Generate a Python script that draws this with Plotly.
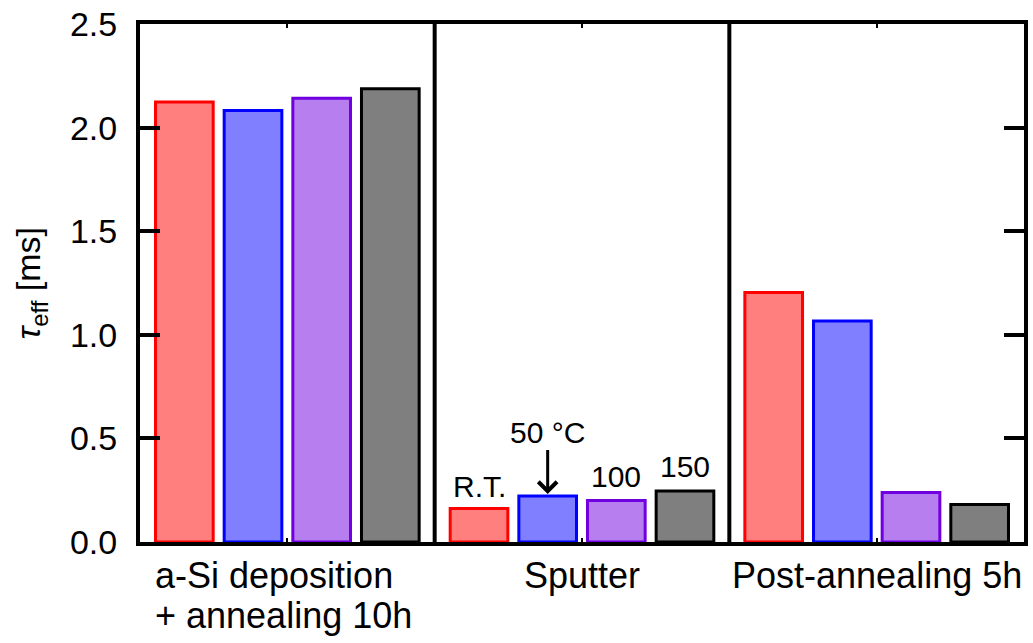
import plotly.graph_objects as go

# Process stages (x categories) and the deposition temperatures (series)
stages = ["a-Si deposition + annealing 10h", "Sputter", "Post-annealing 5h"]
temps = ["R.T.", "50 °C", "100", "150"]

# Effective lifetime tau_eff [ms] per temperature across the three stages
tau_rt = [2.124, 0.162, 1.204]
tau_50 = [2.082, 0.222, 1.067]
tau_100 = [2.142, 0.200, 0.239]
tau_150 = [2.188, 0.246, 0.181]

fill_colors = ["#FF7F7F", "#7F7FFF", "#B77EF0", "#7F7F7F"]
line_colors = ["#FF0000", "#0000FF", "#7000E0", "#000000"]

FONT = "Liberation Sans, Arial, sans-serif"
BARGAP = 0.068
GROUPGAP = 0.16

fig = go.Figure()
for name, vals, fc, lc in zip(temps, [tau_rt, tau_50, tau_100, tau_150], fill_colors, line_colors):
    fig.add_trace(go.Bar(
        x=list(range(len(stages))), y=vals, name=name,
        marker=dict(color=fc, line=dict(color=lc, width=3)),
        showlegend=False,
    ))

# centre of bar k inside a group, in category units
slot = (1 - BARGAP) / len(temps)
def bar_x(group, k):
    return group + (k - (len(temps) - 1) / 2) * slot

ann_font = dict(size=30, family=FONT, color="black")
annotations = []
# temperature labels above the Sputter group
sputter = 1
annotations.append(dict(x=bar_x(sputter, 0), y=tau_rt[sputter], xref="x", yref="y",
                        text="R.T.", showarrow=False, yanchor="bottom", yshift=3,
                        font=ann_font))
annotations.append(dict(x=bar_x(sputter, 1), y=tau_50[sputter], xref="x", yref="y",
                        text="50 °C", showarrow=True, arrowhead=4, arrowsize=1.2,
                        arrowwidth=3, arrowcolor="black", ax=0, ay=-64, standoff=2,
                        font=ann_font))
annotations.append(dict(x=bar_x(sputter, 2), y=tau_100[sputter], xref="x", yref="y",
                        text="100", showarrow=False, yanchor="bottom", yshift=6,
                        font=ann_font))
annotations.append(dict(x=bar_x(sputter, 3), y=tau_150[sputter], xref="x", yref="y",
                        text="150", showarrow=False, yanchor="bottom", yshift=6,
                        font=ann_font))

# stage labels below the axis
lab_font = dict(size=36, family=FONT, color="black")
left_edge = bar_x(0, 0) - slot * (1 - GROUPGAP) / 2
annotations.append(dict(x=left_edge, y=-0.0643, xref="x", yref="paper",
                        text="a-Si deposition", showarrow=False, xanchor="left", yanchor="middle",
                        xshift=-3, font=lab_font))
annotations.append(dict(x=left_edge, y=-0.1416, xref="x", yref="paper",
                        text="+ annealing 10h", showarrow=False, xanchor="left", yanchor="middle",
                        xshift=-3, font=lab_font))
annotations.append(dict(x=1, y=-0.0643, xref="x", yref="paper", text="Sputter",
                        showarrow=False, xanchor="center", yanchor="middle", font=lab_font))
annotations.append(dict(x=2, y=-0.0643, xref="x", yref="paper", text="Post-annealing 5h",
                        showarrow=False, xanchor="center", yanchor="middle", font=lab_font))

# y-axis title
annotations.append(dict(x=-0.124, y=0.5, xref="paper", yref="paper",
                        text="<i>τ</i><sub>eff</sub> [ms]", textangle=-90, showarrow=False,
                        xanchor="center", yanchor="middle",
                        font=dict(size=34, family=FONT, color="black")))

# separators between the stages
shapes = [dict(type="line", xref="x", yref="paper", x0=b, x1=b, y0=0, y1=1,
               line=dict(color="black", width=4)) for b in (0.5, 1.5)]

fig.update_layout(
    width=1033, height=643,
    margin=dict(l=140, r=5, t=24, b=101),
    paper_bgcolor="white", plot_bgcolor="white",
    barmode="group", bargap=BARGAP, bargroupgap=GROUPGAP,
    annotations=annotations, shapes=shapes,
    font=dict(family=FONT, color="black"),
)
fig.update_xaxes(
    range=[-0.5, 2.5], tickvals=[0, 1, 2], showticklabels=False,
    showline=True, linecolor="black", linewidth=4, mirror="ticks",
    ticks="inside", ticklen=4, tickwidth=2, tickcolor="black",
    showgrid=False, zeroline=False,
)
fig.update_yaxes(
    range=[0, 2.5], dtick=0.5, tickformat=".1f",
    showline=True, linecolor="black", linewidth=4, mirror="ticks",
    ticks="inside", ticklen=20, tickwidth=4, tickcolor="black",
    ticklabelstandoff=12,
    tickfont=dict(size=34, family=FONT, color="black"),
    showgrid=False, zeroline=False,
)

fig.write_html("out.html")
